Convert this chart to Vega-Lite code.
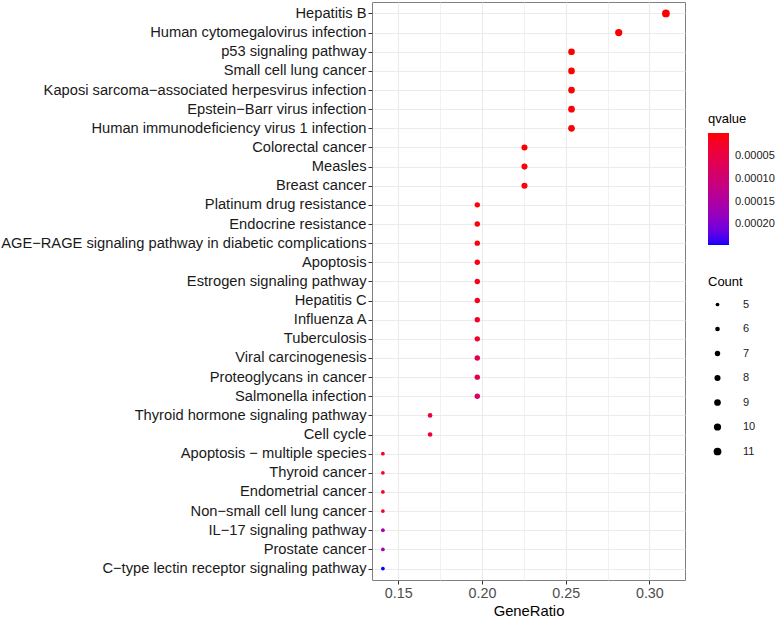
{
  "$schema": "https://vega.github.io/schema/vega-lite/v6.json",
  "width": 313,
  "height": 578,
  "autosize": "none",
  "padding": {"left": 372, "top": 2, "right": 92, "bottom": 39},
  "background": "white",
  "config": {
    "font": "Liberation Sans",
    "view": {"stroke": "#808080", "strokeWidth": 1}
  },
  "data": {
    "values": [
      {"Description": "Hepatitis B", "GeneRatio": 0.3099, "Count": 11, "qvalue": 0.0000002},
      {"Description": "Human cytomegalovirus infection", "GeneRatio": 0.2817, "Count": 10, "qvalue": 0.0000015},
      {"Description": "p53 signaling pathway", "GeneRatio": 0.2535, "Count": 9, "qvalue": 0.0000002},
      {"Description": "Small cell lung cancer", "GeneRatio": 0.2535, "Count": 9, "qvalue": 0.0000003},
      {"Description": "Kaposi sarcoma−associated herpesvirus infection", "GeneRatio": 0.2535, "Count": 9, "qvalue": 0.0000025},
      {"Description": "Epstein−Barr virus infection", "GeneRatio": 0.2535, "Count": 9, "qvalue": 0.000003},
      {"Description": "Human immunodeficiency virus 1 infection", "GeneRatio": 0.2535, "Count": 9, "qvalue": 0.000004},
      {"Description": "Colorectal cancer", "GeneRatio": 0.2254, "Count": 8, "qvalue": 0.0000012},
      {"Description": "Measles", "GeneRatio": 0.2254, "Count": 8, "qvalue": 0.000002},
      {"Description": "Breast cancer", "GeneRatio": 0.2254, "Count": 8, "qvalue": 0.000004},
      {"Description": "Platinum drug resistance", "GeneRatio": 0.1972, "Count": 7, "qvalue": 0.000003},
      {"Description": "Endocrine resistance", "GeneRatio": 0.1972, "Count": 7, "qvalue": 0.000004},
      {"Description": "AGE−RAGE signaling pathway in diabetic complications", "GeneRatio": 0.1972, "Count": 7, "qvalue": 0.000005},
      {"Description": "Apoptosis", "GeneRatio": 0.1972, "Count": 7, "qvalue": 0.000007},
      {"Description": "Estrogen signaling pathway", "GeneRatio": 0.1972, "Count": 7, "qvalue": 0.00001},
      {"Description": "Hepatitis C", "GeneRatio": 0.1972, "Count": 7, "qvalue": 0.000014},
      {"Description": "Influenza A", "GeneRatio": 0.1972, "Count": 7, "qvalue": 0.000018},
      {"Description": "Tuberculosis", "GeneRatio": 0.1972, "Count": 7, "qvalue": 0.000025},
      {"Description": "Viral carcinogenesis", "GeneRatio": 0.1972, "Count": 7, "qvalue": 0.000055},
      {"Description": "Proteoglycans in cancer", "GeneRatio": 0.1972, "Count": 7, "qvalue": 0.000065},
      {"Description": "Salmonella infection", "GeneRatio": 0.1972, "Count": 7, "qvalue": 0.000085},
      {"Description": "Thyroid hormone signaling pathway", "GeneRatio": 0.169, "Count": 6, "qvalue": 0.00004},
      {"Description": "Cell cycle", "GeneRatio": 0.169, "Count": 6, "qvalue": 0.00004},
      {"Description": "Apoptosis − multiple species", "GeneRatio": 0.1408, "Count": 5, "qvalue": 0.000015},
      {"Description": "Thyroid cancer", "GeneRatio": 0.1408, "Count": 5, "qvalue": 0.00002},
      {"Description": "Endometrial cancer", "GeneRatio": 0.1408, "Count": 5, "qvalue": 0.000025},
      {"Description": "Non−small cell lung cancer", "GeneRatio": 0.1408, "Count": 5, "qvalue": 0.00003},
      {"Description": "IL−17 signaling pathway", "GeneRatio": 0.1408, "Count": 5, "qvalue": 0.00016},
      {"Description": "Prostate cancer", "GeneRatio": 0.1408, "Count": 5, "qvalue": 0.000165},
      {"Description": "C−type lectin receptor signaling pathway", "GeneRatio": 0.1408, "Count": 5, "qvalue": 0.000245}
    ]
  },
  "mark": {"type": "circle", "opacity": 1, "color": "black"},
  "encoding": {
    "y": {
      "field": "Description",
      "type": "nominal",
      "sort": null,
      "scale": {"padding": 0.6},
      "axis": {
        "title": null,
        "labelFontSize": 14.7,
        "labelColor": "#1A1A1A",
        "labelLimit": 400,
        "labelPadding": 2,
        "tickSize": 4,
        "tickColor": "#333333",
        "domain": false,
        "grid": true,
        "gridColor": "#EBEBEB",
        "gridWidth": 1.1
      }
    },
    "x": {
      "field": "GeneRatio",
      "type": "quantitative",
      "scale": {"domain": [0.1343, 0.3213], "nice": false, "zero": false},
      "axis": {
        "title": "GeneRatio",
        "titleFontSize": 14.8,
        "titleFontWeight": "normal",
        "titleColor": "black",
        "titlePadding": 3,
        "values": [0.15, 0.175, 0.2, 0.225, 0.25, 0.275, 0.3],
        "labelExpr": "round(datum.value*1000) % 50 == 0 ? format(datum.value, '.2f') : ''",
        "labelFontSize": 14.3,
        "labelColor": "#4D4D4D",
        "labelPadding": 2,
        "tickSize": 4,
        "tickColor": "#333333",
        "tickOpacity": {"condition": {"test": "round(datum.value*1000) % 50 == 0", "value": 1}, "value": 0},
        "domain": false,
        "grid": true,
        "gridColor": "#EBEBEB",
        "gridWidth": {"condition": {"test": "round(datum.value*1000) % 50 == 0", "value": 1.1}, "value": 0.7}
      }
    },
    "color": {
      "field": "qvalue",
      "type": "quantitative",
      "scale": {"domain": [0.000245, 0], "range": ["#0000FF", "#FF0000"], "interpolate": "lab", "nice": false, "zero": false},
      "legend": {
        "title": "qvalue",
        "orient": "none",
        "legendX": 336,
        "legendY": 111,
        "direction": "vertical",
        "gradientLength": 112,
        "gradientThickness": 21,
        "gradientStrokeWidth": 0,
        "values": [0.00005, 0.0001, 0.00015, 0.0002],
        "format": ".5f",
        "labelFontSize": 11,
        "labelColor": "#1A1A1A",
        "labelOffset": 6,
        "labelOverlap": false,
        "titleFontSize": 13,
        "titleFontWeight": "normal",
        "titleColor": "black",
        "titlePadding": 7
      }
    },
    "size": {
      "field": "Count",
      "type": "quantitative",
      "scale": {"domain": [5, 11], "range": [14, 60]},
      "legend": {
        "title": "Count",
        "orient": "none",
        "legendX": 336,
        "legendY": 274,
        "values": [5, 6, 7, 8, 9, 10, 11],
        "symbolFillColor": "black",
        "symbolStrokeWidth": 0,
        "symbolOffset": 4,
        "labelFontSize": 11,
        "labelColor": "#1A1A1A",
        "labelOffset": 20,
        "rowPadding": 12.5,
        "titleFontSize": 13,
        "titleFontWeight": "normal",
        "titleColor": "black",
        "titlePadding": 10
      }
    }
  }
}
